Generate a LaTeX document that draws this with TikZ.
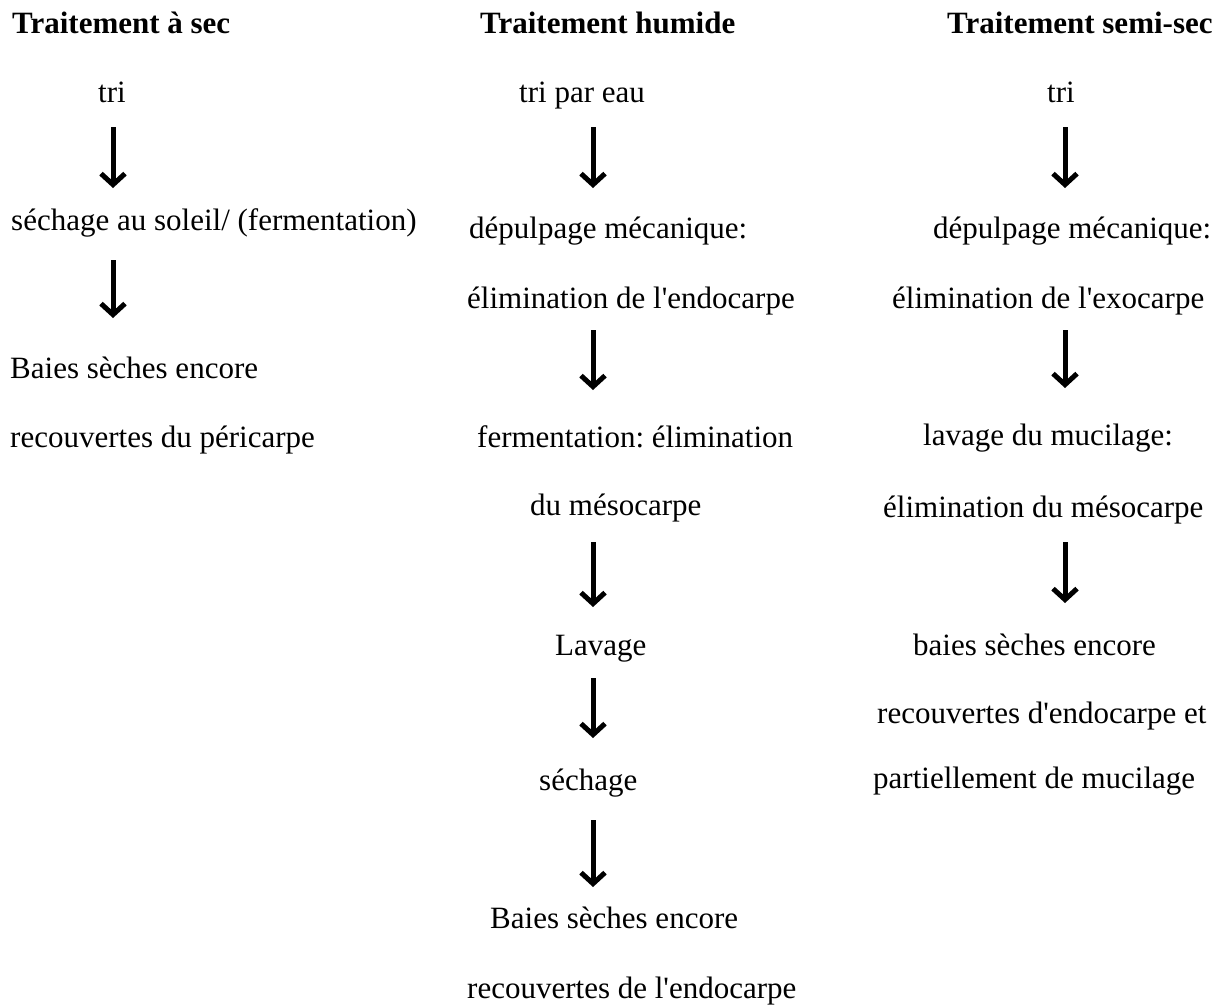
\documentclass[tikz,border=0pt]{standalone}
\usepackage{fontspec}
\setmainfont{Liberation Serif}[Ligatures=TeXOff]
\usetikzlibrary{arrows.meta,calc}
\frenchspacing
\tikzset{
  txt/.style={inner sep=0pt, anchor=base west, font=\fontsize{31}{37}\selectfont},
  head/.style={txt, font=\fontsize{31}{37}\selectfont\bfseries},
  arr/.style={line width=5pt, -{Straight Barb[length=11pt,width=24pt]}},
}
\begin{document}
\frenchspacing
\begin{tikzpicture}[x=1pt,y=-1pt]
\useasboundingbox[fill=white] (0,0) rectangle (1231,1005);
% column axes for the arrows
\coordinate (cL) at (113,0);
\coordinate (cM) at (593,0);
\coordinate (cR) at (1065,0);

% headers
\node[head] (h1) at (12,33) {Traitement à sec};
\node[head] (h2) at (480,33) {Traitement humide};
\node[head] (h3) at (947,33) {Traitement semi-sec};

% left column
\node[txt] (l1) at (98,102) {tri};
\node[txt] (l2) at (11,230) {séchage au soleil/ (fermentation)};
\node[txt] (l3) at (10,378) {Baies sèches encore};
\node[txt] (l4) at (10,447) {recouvertes du péricarpe};

% middle column
\node[txt] (m1) at (519,102) {tri par eau};
\node[txt] (m2) at (469,238) {dépulpage mécanique:};
\node[txt] (m3) at (467,308) {élimination de l'endocarpe};
\node[txt] (m4) at (477,447) {fermentation: élimination};
\node[txt] (m5) at (530,515) {du mésocarpe};
\node[txt] (m6) at (555,655) {Lavage};
\node[txt] (m7) at (539,790) {séchage};
\node[txt] (m8) at (490,928) {Baies sèches encore};
\node[txt] (m9) at (467,998) {recouvertes de l'endocarpe};

% right column
\node[txt] (r1) at (1047,102) {tri};
\node[txt] (r2) at (933,238) {dépulpage mécanique:};
\node[txt] (r3) at (892,308) {élimination de l'exocarpe};
\node[txt] (r4) at (923,445) {lavage du mucilage:};
\node[txt] (r5) at (883,517) {élimination du mésocarpe};
\node[txt] (r6) at (913,655) {baies sèches encore};
\node[txt] (r7) at (877,723) {recouvertes d'endocarpe et};
\node[txt] (r8) at (873,788) {partiellement de mucilage};

% arrows left
\draw[arr] ([yshift=-25pt]l1.base -| cL) -- ([yshift=42pt]l2.base -| cL);
\draw[arr] ([yshift=-30pt]l2.base -| cL) -- ([yshift=60pt]l3.base -| cL);

% arrows middle
\draw[arr] ([yshift=-25pt]m1.base -| cM) -- ([yshift=50pt]m2.base -| cM);
\draw[arr] ([yshift=-22pt]m3.base -| cM) -- ([yshift=57pt]m4.base -| cM);
\draw[arr] ([yshift=-27pt]m5.base -| cM) -- ([yshift=48pt]m6.base -| cM);
\draw[arr] ([yshift=-23pt]m6.base -| cM) -- ([yshift=52pt]m7.base -| cM);
\draw[arr] ([yshift=-30pt]m7.base -| cM) -- ([yshift=41pt]m8.base -| cM);

% arrows right
\draw[arr] ([yshift=-25pt]r1.base -| cR) -- ([yshift=50pt]r2.base -| cR);
\draw[arr] ([yshift=-22pt]r3.base -| cR) -- ([yshift=57pt]r4.base -| cR);
\draw[arr] ([yshift=-25pt]r5.base -| cR) -- ([yshift=52pt]r6.base -| cR);
\end{tikzpicture}
\end{document}
